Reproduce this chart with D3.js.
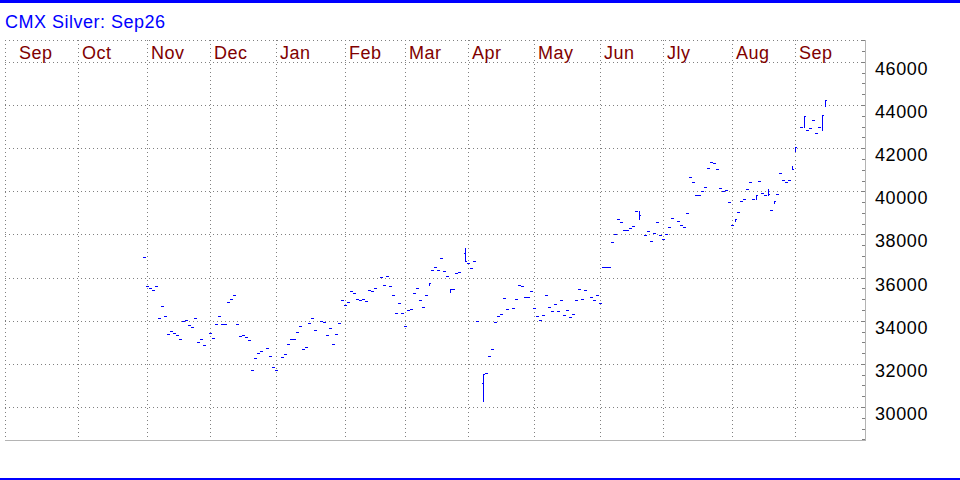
<!DOCTYPE html>
<html><head><meta charset="utf-8">
<script src="https://cdn.jsdelivr.net/npm/d3@7"></script>
<style>body{margin:0;background:#fff}svg{display:block}</style>
</head><body><svg id="c" width="960" height="480"></svg>
<script>
const title = "CMX Silver: Sep26";
const axisStart = "2024-09-02";          // first weekday slot of the time axis
const axisEnd = "2025-09-19";
const monthStarts = ["2024-09-01","2024-10-01","2024-11-01","2024-12-01","2025-01-01","2025-02-01","2025-03-01","2025-04-01","2025-05-01","2025-06-01","2025-07-01","2025-08-01","2025-09-01"];
const monthLabels = ["Sep","Oct","Nov","Dec","Jan","Feb","Mar","Apr","May","Jun","Jly","Aug","Sep"];
const yTicks = [30000,32000,34000,36000,38000,40000,42000,44000,46000];

// daily settlement, consecutive weekdays from firstDate (null = no bar)
const firstDate = "2024-10-30";
const closes = [
 36940,35600,35500,35410,35600,34110,34670,34200,33370,33510,
 33420,33320,33140,33970,34020,33790,33700,34110,33000,33140,
 32860,null,33420,33190,33830,34200,33830,33830,34850,34990,
 35190,33830,33280,33320,33230,33090,31700,32260,32490,32580,
 null,32720,32350,31840,31700,null,32300,32440,32910,33140,
 33140,33460,33740,32680,32770,33880,34110,33560,null,33970,
 33930,33320,33650,32910,33370,33880,34950,34720,34850,35360,
 35270,34990,34950,34990,34900,35410,35360,35500,null,36010,
 35640,36060,35600,35180,34340,34810,34340,33740,34480,34530,
 35270,35500,34950,34620,35180,35760,36340,36480,36350,36890,
 36290,36060,35460,35460,36200,36250,null,36780,36660,36430,
 36750,33970,null,31530,31560,32350,32680,33930,34200,34300,
 35040,34530,null,34580,34990,35640,35600,35090,35090,35360,
 34580,34200,34020,34250,35180,34620,34440,34760,34440,34950,
 34250,34480,34160,34300,34950,35460,34990,35410,null,35090,
 34950,35180,34810,36480,36480,36480,37640,38010,38710,38560,
 38190,38190,38280,38380,39070,38890,null,37960,38150,37680,
 38050,38560,37960,37780,38010,38330,38760,null,38610,38420,
 38330,38980,40650,40420,39820,39820,40000,40190,41070,41340,
 41300,41020,40140,40000,40050,39490,38420,38700,39030,39540,
 39630,40090,40420,39630,39820,40460,39910,39820,39860,39120,
 39540,39860,40830,40510,40420,40510,41020,42070,null,43000,
 43490,42830,42920,43300,42690,42970,43540,44230
];
// days that traded a range
const rangeDates = ["2025-03-12","2025-03-21","2025-03-28","2025-04-07","2025-06-18","2025-08-01","2025-08-12","2025-08-18","2025-08-20","2025-08-28","2025-08-29","2025-09-03","2025-09-11","2025-09-12"];
const rangeOpens = [null,null,37130,31100,null,null,null,null,null,null,null,null,null,null];
const rangeHighs = [35760,35460,37360,31530,39100,38700,39820,40090,39540,41160,42070,43490,43540,44230];
const rangeLows  = [35670,35350,36780,30290,38730,38610,39630,39820,39440,41020,41880,43000,42840,43950];

const parse = d3.timeParse("%Y-%m-%d");
const start = parse(axisStart);
function wd(dateStr){
  const d = parse(dateStr);
  const days = d3.timeDay.count(start, d);
  const w = Math.floor(days/7), r = days - w*7;
  return w*5 + Math.min(r,5);
}
const W = 960, H = 480;
const L = 5, R = 865, T = 40, B = 440;
const svg = d3.select("#c");
const font = "'Liberation Sans', Arial, sans-serif";

const x = d3.scaleLinear().domain([-1, wd(axisEnd)]).range([15.5, 15.5 + 3*(wd(axisEnd)+1)]);
const y = d3.scaleLinear().domain([30000, 46000]).range([407.5, 62.4]);
const py = v => Math.floor(y(v)) + 0.5;

// frame bars
svg.append("rect").attr("x",0).attr("y",0).attr("width",W).attr("height",3).attr("fill","#0000ff");
svg.append("rect").attr("x",0).attr("y",478).attr("width",W).attr("height",2).attr("fill","#0000ff");
svg.append("text").attr("x",5).attr("y",28).attr("fill","#0000ff")
  .style("font-family",font).style("font-size","18px").style("letter-spacing","0.5px").text(title);

const g = svg.append("g").attr("shape-rendering","crispEdges");
const dot = {stroke:"#808080","stroke-dasharray":"1,3"};
function dline(x1,y1,x2,y2,st){const l=g.append("line").attr("x1",x1).attr("y1",y1).attr("x2",x2).attr("y2",y2);for(const k in st)l.attr(k,st[k]);return l;}

// plot border (dotted top/left), solid bottom/right
dline(L, T+0.5, R, T+0.5, dot);
dline(L+0.5, T, L+0.5, B, dot);
// horizontal grid
yTicks.forEach(v => dline(L, py(v), R, py(v), dot));
// vertical month grid at the last weekday of the previous month
const monthX = monthStarts.map(m => x(wd(m) - 1));
monthX.forEach((mx,i) => { if (mx > 20 && mx < R) dline(mx, T, mx, B, dot); });
dline(L, B+0.5, R+1, B+0.5, {stroke:"#b4b4b4"});
dline(R+0.5, T, R+0.5, B+1, {stroke:"#b4b4b4"});

// minor ticks on the price axis
d3.range(28500, 47500, 500).forEach(v => {
  const yy = py(v);
  if (yy > T && yy < B) dline(R-3, yy, R, yy, {stroke:"#808080"});
});
// price labels
svg.selectAll("text.yl").data(yTicks).join("text").attr("class","yl")
  .attr("x", 875).attr("y", v => Math.floor(y(v)) + 12.5)
  .attr("fill","#000").style("font-family",font).style("font-size","18px").style("letter-spacing","0.6px")
  .text(v => v);
// month labels
svg.selectAll("text.ml").data(monthLabels).join("text").attr("class","ml")
  .attr("x", (d,i) => monthX[i] + 3.5).attr("y", 59)
  .attr("fill","#800000").style("font-family",font).style("font-size","18px").style("letter-spacing","0.5px")
  .text(d => d);

// bars
const i0 = wd(firstDate);
const bars = [];
closes.forEach((c,k) => { if (c != null) bars.push({i: i0+k, o: c, h: c, l: c, c: c, flat: true}); });
rangeDates.forEach((d,j) => {
  const i = wd(d);
  const b = bars.find(b => b.i === i);
  b.o = rangeOpens[j]; b.h = rangeHighs[j]; b.l = rangeLows[j]; b.flat = false;
});
const path = b => {
  const cx = x(b.i);
  if (b.flat) return `M${cx-1.5},${py(b.c)}H${cx+1.5}`;
  let d = `M${cx},${py(b.h)-0.5}V${py(b.l)+0.5}M${cx+0.5},${py(b.c)}H${cx+1.5}`;
  if (b.o != null) d += `M${cx-1.5},${py(b.o)}H${cx-0.5}`;
  return d;
};
g.selectAll("path.bar").data(bars).join("path").attr("class","bar")
  .attr("d", path).attr("fill","none").attr("stroke","#0000ff").attr("stroke-width",1);
</script></body></html>
